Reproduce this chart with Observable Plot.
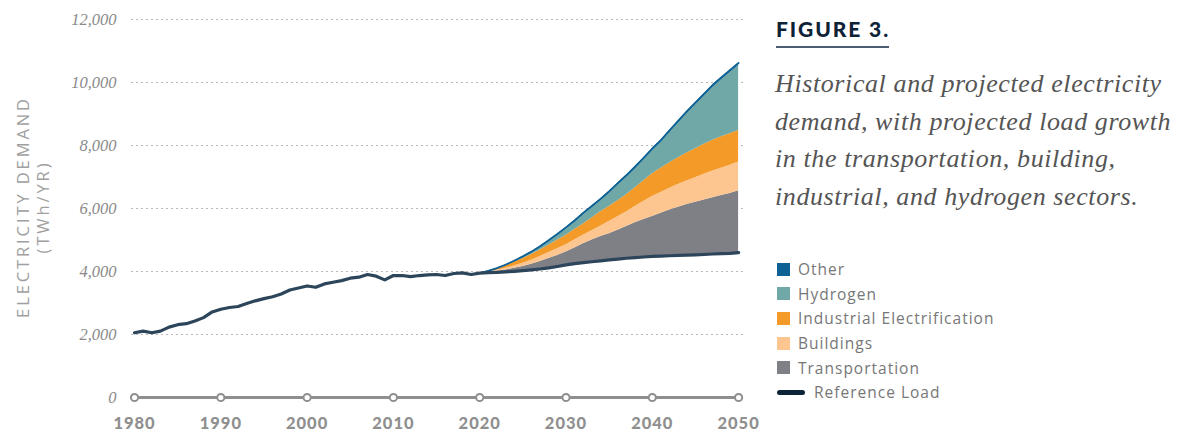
<!DOCTYPE html>
<html><head><meta charset="utf-8">
<script src="https://cdn.jsdelivr.net/npm/d3@7"></script>
<script src="https://cdn.jsdelivr.net/npm/@observablehq/plot@0.6"></script>
<style>
body{margin:0;background:#fff;}
#wrap{position:relative;width:1195px;height:433px;overflow:hidden;background:#fff;}
#chart{position:absolute;left:0;top:0;}
.ylab{position:absolute;left:0;top:0;transform-origin:0 0;font-family:"Open Sans",sans-serif;font-weight:400;color:#a0a0a0;font-size:16.5px;letter-spacing:2.9px;white-space:nowrap;text-align:center;width:240px;}
#fig{position:absolute;left:776px;top:16px;font-family:Lato,sans-serif;font-weight:900;font-size:21px;letter-spacing:1.9px;color:#0e2236;}
#rule{position:absolute;left:776px;top:46px;width:113px;height:2px;background:#4b5c70;}
#desc{position:absolute;left:775px;top:65px;width:420px;font-family:"Liberation Serif",serif;font-style:italic;font-size:26px;letter-spacing:0.6px;line-height:37.5px;color:#555;white-space:nowrap;}
#legend{position:absolute;left:777px;top:257px;font-family:"Open Sans",sans-serif;font-size:15.5px;letter-spacing:1px;color:#777;}
.li{height:24.6px;display:flex;align-items:center;}
.sw{width:13px;height:13px;margin-right:8px;}
.ln{width:28px;height:4.5px;border-radius:3px;margin-right:9px;background:#0d2338;}
</style></head><body>
<div id="wrap">
<div id="chart"></div>
<div class="ylab" id="yl1">ELECTRICITY DEMAND</div>
<div class="ylab" id="yl2">(TWh/YR)</div>
<div id="fig">FIGURE 3.</div>
<div id="rule"></div>
<div id="desc">Historical and projected electricity<br>demand, with projected load growth<br>in the transportation, building,<br>industrial, and hydrogen sectors.</div>
<div id="legend"></div>
</div>
<script>
// ---- data ----
const histYears = d3.range(1980, 2020);
const histLoad = [2054,2106,2054,2106,2234,2311,2343,2427,2536,2716,
                  2803,2857,2889,2985,3069,3140,3198,3284,3413,3477,
                  3541,3499,3605,3659,3711,3788,3820,3904,3852,3734,
                  3872,3872,3840,3872,3894,3904,3872,3936,3958,3904];
const projYears = d3.range(2020, 2051);
const refLoad = [3950,3965,3975,3990,4005,4025,4050,4080,4115,4160,
                 4210,4250,4280,4310,4340,4370,4395,4420,4440,4460,
                 4480,4490,4500,4510,4520,4530,4540,4555,4565,4575,4600];
const transportation = [0,15,35,60,95,135,180,240,295,350,
                        410,500,600,690,770,830,915,1010,1110,1190,
                        1270,1360,1450,1530,1610,1670,1730,1790,1845,1905,1960];
const buildings = [0,10,30,55,75,100,130,160,190,210,
                   230,250,270,290,330,390,430,460,510,570,
                   630,660,690,720,740,780,820,845,870,890,915];
const industrial = [0,20,45,75,115,150,180,200,230,270,
                    300,330,360,410,460,470,510,550,600,660,
                    720,770,810,850,890,920,950,980,1000,1000,1005];
const hydrogen = [0,5,10,20,30,45,60,85,120,155,
                  200,235,290,320,340,420,490,550,600,660,
                  740,820,960,1100,1250,1390,1530,1680,1810,1950,2070];
const other = [0,5,10,15,20,25,30,35,40,45,
               50,55,60,60,65,65,65,65,65,65,
               65,70,70,70,70,70,70,70,70,70,70];
const yTicks = [0,2000,4000,6000,8000,10000,12000];
const xTicks = [1980,1990,2000,2010,2020,2030,2040,2050];
const seriesNames = ["Transportation","Buildings","Industrial Electrification","Hydrogen","Other"];
const seriesColors = ["#7f8085","#fdc690","#f39a28","#6fa8a6","#0e6194"];
const refColor = "#2c455b";

// ---- derived tables ----
const seriesVals = [transportation, buildings, industrial, hydrogen, other];
const stackRows = [];
const totals = [];
projYears.forEach((yr, i) => {
  let lo = refLoad[i];
  seriesNames.forEach((s, k) => {
    const hi = lo + seriesVals[k][i];
    stackRows.push({series: s, year: yr, y1: lo, y2: hi});
    lo = hi;
  });
  totals.push({year: yr, total: lo});
});
const refRows = histYears.map((yr, i) => ({year: yr, value: histLoad[i]}))
  .concat(projYears.map((yr, i) => ({year: yr, value: refLoad[i]})));

const chart = Plot.plot({
  width: 760, height: 433,
  marginLeft: 131, marginRight: 15, marginTop: 19, marginBottom: 36,
  x: {domain: [1979.65, 2050.8], axis: null},
  y: {domain: [0, 12000], axis: null},
  color: {domain: seriesNames, range: seriesColors},
  style: {background: "transparent", overflow: "visible"},
  marks: [
    Plot.ruleY(yTicks.filter(d => d > 0), {stroke: "#b8b8b8", strokeWidth: 1.2, strokeDasharray: "2,3"}),
    Plot.text(yTicks, {y: d => d, frameAnchor: "left", dx: -15, textAnchor: "end",
      text: d => d3.format(",")(d), fontFamily: "Liberation Serif", fontStyle: "italic",
      fontSize: 16.5, fill: "#8a8a8a"}),
    Plot.areaY(stackRows, {x: "year", y1: "y1", y2: "y2", z: "series", fill: "series"}),
    Plot.lineY(totals, {x: "year", y: "total", stroke: "#0e6194", strokeWidth: 1.8}),
    Plot.lineY(refRows, {x: "year", y: "value", stroke: refColor, strokeWidth: 3.2,
      strokeLinejoin: "round", strokeLinecap: "round"}),
    Plot.ruleY([0], {x1: 1980, x2: 2050, stroke: "#8f8f8f", strokeWidth: 3}),
    Plot.dot(xTicks, {x: d => d, y: 0, r: 3.6, fill: "white", stroke: "#8f8f8f", strokeWidth: 2}),
    Plot.text(xTicks, {x: d => d, y: 0, dy: 26, text: d => String(d), fontFamily: "Lato",
      fontWeight: 900, fontSize: 16.5, fill: "#8f8f8f"})
  ]
});
document.getElementById("chart").appendChild(chart);
d3.select(chart).selectAll("text").filter(function(){ return /^\d{4}$/.test(this.textContent); })
  .attr("letter-spacing", "1px");

// y label placement (rotated)
const yl1 = document.getElementById("yl1"), yl2 = document.getElementById("yl2");
yl1.style.transform = "translate(11px, 327px) rotate(-90deg)";
yl2.style.transform = "translate(31px, 327px) rotate(-90deg)";

// legend
const legendItems = seriesNames.slice().reverse();
const legendColors = seriesColors.slice().reverse();
const lg = d3.select("#legend");
legendItems.forEach((s, i) => {
  const row = lg.append("div").attr("class", "li");
  row.append("div").attr("class", "sw").style("background", legendColors[i]);
  row.append("span").text(s);
});
const r = lg.append("div").attr("class", "li");
r.append("div").attr("class", "ln");
r.append("span").text("Reference Load");
</script>
</body></html>
